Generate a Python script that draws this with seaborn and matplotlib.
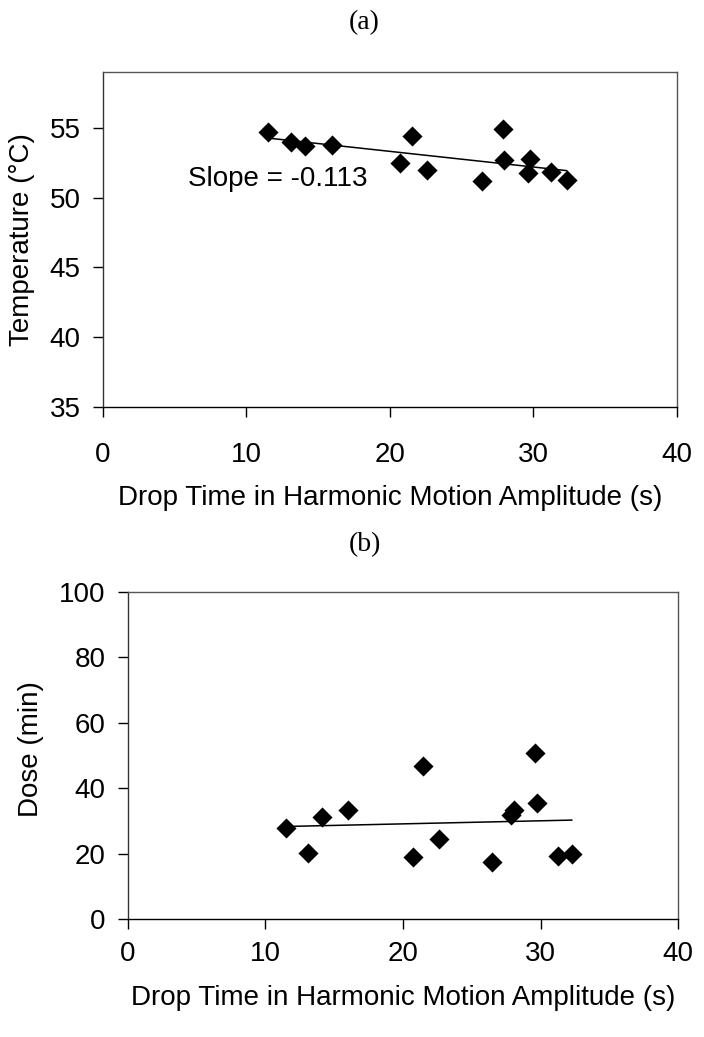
import numpy as np
import pandas as pd
import seaborn as sns
import matplotlib.pyplot as plt

# panel (a): temperature vs drop time
temp_time = [11.47, 13.13, 14.08, 15.99, 20.72, 21.50, 22.60,
             26.40, 27.87, 27.96, 29.62, 29.75, 31.22, 32.32]
temperature = [54.69, 53.98, 53.69, 53.74, 52.50, 54.40, 51.98,
               51.21, 54.88, 52.67, 51.79, 52.74, 51.86, 51.24]

# panel (b): dose vs drop time
dose_time = [11.50, 13.10, 14.08, 16.00, 20.75, 21.47, 22.65,
             26.47, 27.88, 28.04, 29.58, 29.77, 31.27, 32.29]
dose = [27.96, 20.3, 31.3, 33.2, 19.06, 46.9, 24.5,
        17.4, 31.9, 33.4, 50.8, 35.6, 19.3, 19.9]

x_ticks = [0, 10, 20, 30, 40]
temp_ticks = [35, 40, 45, 50, 55]
dose_ticks = [0, 20, 40, 60, 80, 100]

sns.set_theme(style="white")
plt.rcParams['font.family'] = ['Liberation Sans', 'DejaVu Sans']
plt.rcParams['text.color'] = 'black'
plt.rcParams['axes.labelcolor'] = 'black'

FS = 20

df_a = pd.DataFrame({"time": temp_time, "temp": temperature})
df_b = pd.DataFrame({"time": dose_time, "dose": dose})

fig = plt.figure(figsize=(7.04, 10.37), dpi=100)
ax_a = fig.add_axes([0.1463, 0.6075, 0.8153, 0.3231])
ax_b = fig.add_axes([0.1818, 0.1138, 0.7813, 0.3153])


def style_axes(ax, yticks, ylim, xpad):
    ax.set_xlim(0, 40)
    ax.set_ylim(*ylim)
    ax.set_xticks(x_ticks)
    ax.set_yticks(yticks)
    for side in ["top", "right", "left", "bottom"]:
        ax.spines[side].set_visible(True)
        ax.spines[side].set_linewidth(1.0)
        ax.spines[side].set_color("#555555")
    ax.spines["bottom"].set_color("black")
    ax.spines["left"].set_color("#333333")
    ax.tick_params(axis="both", which="both", direction="out", length=7,
                   width=1, color="black", labelsize=FS, labelcolor="black")
    ax.tick_params(axis="y", pad=9, left=True)
    ax.tick_params(axis="x", pad=xpad, bottom=True)


# panel (a)
sns.regplot(data=df_a, x="time", y="temp", ax=ax_a, scatter=False, ci=None,
            truncate=True, line_kws={"color": "black", "lw": 1.1})
sns.scatterplot(data=df_a, x="time", y="temp", ax=ax_a, marker="D", s=105,
                color="black", edgecolor="black", linewidth=0, zorder=3)
style_axes(ax_a, temp_ticks, (35, 59), 18)
ax_a.set_xlabel("Drop Time in Harmonic Motion Amplitude (s)", fontsize=FS)
ax_a.set_ylabel("Temperature (°C)", fontsize=FS)
ax_a.xaxis.set_label_coords(0.5, -0.272)
ax_a.xaxis.label.set_va("center")
ax_a.yaxis.set_label_coords(-0.141, 0.5)
ax_a.yaxis.label.set_va("center")
ax_a.text(5.9, 51.3, "Slope = -0.113", fontsize=FS, va="center", ha="left")

# panel (b)
sns.regplot(data=df_b, x="time", y="dose", ax=ax_b, scatter=False, ci=None,
            truncate=True, line_kws={"color": "black", "lw": 1.1})
sns.scatterplot(data=df_b, x="time", y="dose", ax=ax_b, marker="D", s=105,
                color="black", edgecolor="black", linewidth=0, zorder=3)
style_axes(ax_b, dose_ticks, (0, 100), 9)
ax_b.set_xlabel("Drop Time in Harmonic Motion Amplitude (s)", fontsize=FS)
ax_b.set_ylabel("Dose (min)", fontsize=FS)
ax_b.xaxis.set_label_coords(0.5, -0.2416)
ax_b.xaxis.label.set_va("center")
ax_b.yaxis.set_label_coords(-0.176, 0.52)
ax_b.yaxis.label.set_va("center")

# panel letters
fig.text(0.518, 1 - 23 / 1037, "(a)", fontsize=20, ha="center", va="center",
         family=["Liberation Serif", "DejaVu Serif"])
fig.text(0.518, 1 - 545 / 1037, "(b)", fontsize=20, ha="center", va="center",
         family=["Liberation Serif", "DejaVu Serif"])

fig.savefig("out.png", dpi=100, facecolor="white")
